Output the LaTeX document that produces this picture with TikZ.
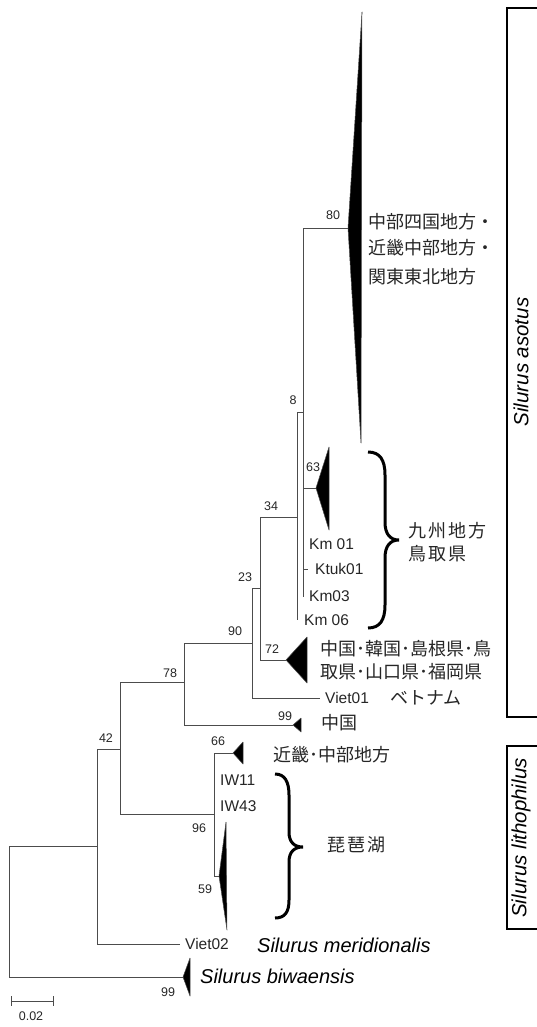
\documentclass[tikz,border=0pt]{standalone}
\usepackage{fontspec}
\setmainfont{Liberation Sans}
\newfontfamily\jp{Noto Sans CJK JP}
\newfontfamily\jpsp[LetterSpace=11]{Noto Sans CJK JP}
\begin{document}
\begin{tikzpicture}[x=1pt,y=-1pt,
 br/.style={draw=black!70,line width=0.8pt},
 tri/.style={fill=black,draw=black!70,line width=0.5pt,line join=round},
 bs/.style={font=\fontsize{12.5}{14}\selectfont,text=black!85,inner sep=0},
 tip/.style={font=\fontsize{15.5}{18}\selectfont,text=black!85,anchor=west,inner sep=0},
 jpl/.style={font=\jp\fontsize{18}{20}\selectfont,text=black!85,anchor=west,inner sep=0},
 jpw/.style={font=\jpsp\fontsize{18}{20}\selectfont,text=black!85,anchor=west,inner sep=0},
 spn/.style={font=\fontsize{20}{24}\selectfont\itshape,anchor=west,inner sep=0},
 curly/.style={draw=black,line width=3pt},
 clade/.style={draw=black,line width=1.8pt},
 cladename/.style={font=\fontsize{20.5}{24}\selectfont\itshape,rotate=90,inner sep=0}]
\useasboundingbox (0,0) rectangle (536,1027);
% internal nodes
\coordinate (R) at (9.5,911);
\coordinate (A42) at (97,846);
\coordinate (N120) at (120,749);
\coordinate (N184) at (184,682);
\coordinate (N252) at (252,643);
\coordinate (N260) at (260,588);
\coordinate (N297) at (297,517);
\coordinate (N303) at (303,412);
\coordinate (N96) at (214,814);
% tips
\coordinate (tBig) at (348,228);
\coordinate (t63) at (316,488);
\coordinate (lKm01) at (303,544);
\coordinate (lKtuk) at (308,569);
\coordinate (lKm03) at (303,597);
\coordinate (lKm06) at (297,620);
\coordinate (t72) at (286,660);
\coordinate (lViet01) at (320,698);
\coordinate (t99a) at (293,725);
\coordinate (t66) at (233,753);
\coordinate (t59) at (219,876);
\coordinate (lViet02) at (180,944);
\coordinate (tBw) at (183,977);
% branches
\draw[br] (R) |- (A42);
\draw[br] (R) |- (tBw);
\draw[br] (A42) |- (N120);
\draw[br] (A42) |- (lViet02);
\draw[br] (N120) |- (N184);
\draw[br] (N120) |- (N96);
\draw[br] (N184) |- (N252);
\draw[br] (N184) |- (t99a);
\draw[br] (N252) |- (N260);
\draw[br] (N252) |- (lViet01);
\draw[br] (N260) |- (N297);
\draw[br] (N260) |- (t72);
\draw[br] (N297) |- (N303);
\draw[br] (N297) |- (lKm06);
\draw[br] (N303) |- (tBig);
\draw[br] (N303) |- (t63);
\draw[br] (N303) |- (lKm01);
\draw[br] (N303) |- (lKtuk);
\draw[br] (N303) |- (lKm03);
\draw[br] (N96) |- (t66);
\draw[br] (N96) |- (t59);
% collapsed clades
\path[tri] (tBig) -- (362,12) -- (361,443) -- cycle;
\path[tri] (t63) -- (329,447) -- (329,530) -- cycle;
\path[tri] (t72) -- (307,637) -- (307,683) -- cycle;
\path[tri] (t99a) -- (301,718) -- (301,732) -- cycle;
\path[tri] (t66) -- (243,742) -- (243,764) -- cycle;
\path[tri] (t59) -- (226,822) -- (227,930) -- cycle;
\path[tri] (tBw) -- (190,958) -- (190,996) -- cycle;
% bootstrap values
\node[bs] (b80) at (333,215) {80};
\node[bs] (b8) at (293,400) {8};
\node[bs] (b63) at (313,467) {63};
\node[bs] (b34) at (271,506) {34};
\node[bs] (b23) at (245,577) {23};
\node[bs] (b72) at (272,649) {72};
\node[bs] (b90) at (235,631) {90};
\node[bs] (b78) at (170,673) {78};
\node[bs] (b99a) at (285,716) {99};
\node[bs] (b66) at (218,741) {66};
\node[bs] (b42) at (106,738) {42};
\node[bs] (b96) at (199,828) {96};
\node[bs] (b59) at (205,889) {59};
\node[bs] (b99b) at (168,992) {99};
% tip labels
\node[tip] (Km01) at (309,544) {Km 01};
\node[tip] (Ktuk01) at (315,569) {Ktuk01};
\node[tip] (Km03) at (309,596) {Km03};
\node[tip] (Km06) at (304,620) {Km 06};
\node[tip] (Viet01) at (325,698) {Viet01};
\node[tip] (IW11) at (220,780) {IW11};
\node[tip] (IW43) at (220,806) {IW43};
\node[tip] (Viet02) at (185,944) {Viet02};
% Japanese labels
\node[jpl] (j1a) at (368,222) {中部四国地方・};
\node[jpl] (j1b) at (368,248) {近畿中部地方・};
\node[jpl] (j1c) at (368,277) {関東東北地方};
\node[jpw] (j2a) at (408,531) {九州地方};
\node[jpw] (j2b) at (408,554) {鳥取県};
\node[jpl] (j3a) at (320,649) {中国･韓国･島根県･鳥};
\node[jpl] (j3b) at (320,672) {取県･山口県･福岡県};
\node[jpl] (j4) at (390,698) {ベトナム};
\node[jpl] (j5) at (321,723) {中国};
\node[jpl] (j6) at (273,755) {近畿･中部地方};
\node[jpw] (j7) at (327,845) {琵琶湖};
% species names
\node[spn] (smer) at (257,945) {Silurus meridionalis};
\node[spn] (sbiw) at (200,976) {Silurus biwaensis};
% braces
\draw[curly] (368,452) .. controls (380,452) and (385,460) .. (385,475) -- (385,522)
  .. controls (385,534) and (390,540) .. (399,540)
  .. controls (390,540) and (385,546) .. (385,558) -- (385,605)
  .. controls (385,620) and (380,628) .. (368,628);
\draw[curly] (275,774) .. controls (285,774) and (289,782) .. (289,795) -- (289,832)
  .. controls (289,842) and (294,847) .. (303,847)
  .. controls (294,847) and (289,852) .. (289,862) -- (289,900)
  .. controls (289,912) and (285,918) .. (275,918);
% clade boxes
\draw[clade] (545,8) -- (507,8) -- (507,717) -- (545,717);
\draw[clade] (545,746) -- (507,746) -- (507,929) -- (545,929);
\node[cladename] (asotus) at (521,362) {Silurus asotus};
\node[cladename] (litho) at (521,838) {Silurus lithophilus};
% scale bar
\coordinate (s1) at (11,1001);
\coordinate (s2) at (53,1001);
\draw[br] (s1) -- (s2);
\draw[br] ([yshift=5pt]s1) -- ([yshift=-5pt]s1);
\draw[br] ([yshift=5pt]s2) -- ([yshift=-5pt]s2);
\node[bs] (scale) at (31,1016) {0.02};
\end{tikzpicture}
\end{document}
